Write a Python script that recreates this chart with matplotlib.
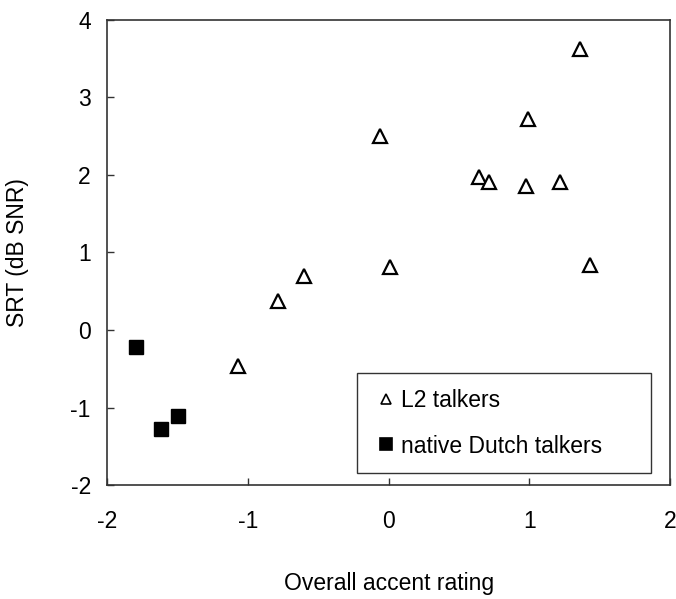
import matplotlib

matplotlib.use("Agg")

import matplotlib.pyplot as plt
from matplotlib.patches import Rectangle

plt.rcParams["font.family"] = ["Liberation Sans", "DejaVu Sans"]
plt.rcParams["axes.unicode_minus"] = False

# L2 talkers: overall accent rating vs SRT
l2_accent = [-1.07, -0.79, -0.60, -0.06, 0.01, 0.64, 0.71, 0.98, 0.99, 1.22, 1.36, 1.43]
l2_srt = [-0.46, 0.38, 0.70, 2.50, 0.81, 1.97, 1.91, 1.86, 2.72, 1.91, 3.62, 0.84]

# native Dutch talkers
nl_accent = [-1.80, -1.62, -1.50]
nl_srt = [-0.22, -1.27, -1.11]

fig = plt.figure(figsize=(6.76, 5.99), dpi=100)
ax = fig.add_axes([0.159, 0.19, 0.832, 0.777])

ax.plot(l2_accent, l2_srt, linestyle="none", marker="^", markersize=9.5,
        markerfacecolor="white", markeredgecolor="black", markeredgewidth=1.6,
        label="L2 talkers")
ax.plot(nl_accent, nl_srt, linestyle="none", marker="s", markersize=10.5,
        markerfacecolor="black", markeredgecolor="black",
        label="native Dutch talkers")

ax.set_xlim(-2, 2)
ax.set_ylim(-2, 4)
ax.set_xticks([-2, -1, 0, 1, 2])
ax.set_yticks([-2, -1, 0, 1, 2, 3, 4])
ax.tick_params(direction="in", length=5, width=1, labelsize=16.5, colors="#333333",
               labelcolor="black")
ax.tick_params(axis="x", pad=18)
ax.tick_params(axis="y", pad=12)
for s in ax.spines.values():
    s.set_color("#333333")
    s.set_linewidth(1.2)

ax.set_xlabel("Overall accent rating", fontsize=16.5, labelpad=28)
ax.set_ylabel("SRT (dB SNR)", fontsize=16.5, labelpad=30)

# legend box drawn separately so its width matches the original
ax.add_patch(Rectangle((0.4436, 0.026), 0.522, 0.215, transform=ax.transAxes,
                       facecolor="white", edgecolor="#333333", linewidth=1.0, zorder=3))
leg = ax.legend(loc="center left", bbox_to_anchor=(0.481, 0.1335), fontsize=16.5,
                markerscale=0.78, handlelength=0.7, handletextpad=0.3,
                labelspacing=1.0, borderpad=0, frameon=False, borderaxespad=0)
leg.set_zorder(4)
for h in leg.legend_handles:
    h.set_markeredgewidth(1.2)

fig.savefig("out.png", dpi=100)
